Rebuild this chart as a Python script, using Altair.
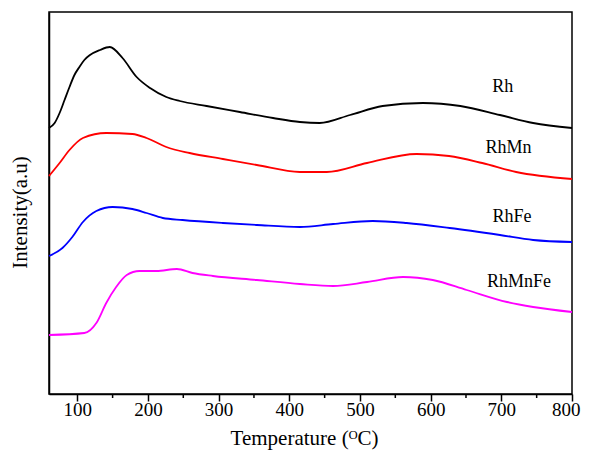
import altair as alt
import pandas as pd

# ---- data (temperature in °C, intensity in arbitrary units) ----
series_names = ["Rh", "RhMn", "RhFe", "RhMnFe"]
series_colors = ["#000000", "#ff0000", "#0000ff", "#ff00ff"]

rh_T = [60, 68, 75, 82, 89, 96, 103, 110, 118, 132, 146, 164, 184, 203, 226, 245, 283, 330, 377, 415, 443, 486, 532, 589, 642, 698, 745, 800]
rh_I = [266, 271, 281, 294, 307, 319, 327, 334, 339, 344, 347, 336, 317, 306, 297, 293, 288, 282, 276, 272, 271, 279, 288, 291, 288, 279, 271, 266]

rhmn_T = [60, 75, 89, 108, 141, 178, 198, 226, 259, 306, 354, 415, 453, 510, 580, 626, 673, 721, 800]
rhmn_I = [218, 231, 244, 256, 261, 260, 256, 247, 241, 235, 229, 222, 222, 231, 240, 238, 231, 222, 215]

rhfe_T = [60, 79, 93, 108, 127, 150, 178, 198, 221, 249, 306, 354, 415, 462, 518, 566, 627, 698, 745, 800]
rhfe_I = [138, 146, 157, 172, 183, 187, 185, 181, 176, 174, 171, 169, 167, 170, 173, 171, 166, 159, 154, 152]

rhmnfe_T = [60, 110, 127, 141, 155, 170, 188, 212, 241, 263, 292, 354, 415, 462, 510, 561, 603, 651, 708, 745, 800]
rhmnfe_I = [59, 61, 71, 91, 107, 119, 123, 123, 125, 121, 118, 114, 110, 108, 112, 117, 114, 104, 92, 87, 82]

label_T = [702, 710, 715, 725]
label_I = [307, 246, 177, 112]

x_ticks = [100, 200, 300, 400, 500, 600, 700, 800]
minor_ticks = [150, 250, 350, 450, 550, 650, 750]

# ---- tables ----
rows = []
for name, ts, vs in zip(series_names,
                        [rh_T, rhmn_T, rhfe_T, rhmnfe_T],
                        [rh_I, rhmn_I, rhfe_I, rhmnfe_I]):
    for t, v in zip(ts, vs):
        rows.append({"series": name, "T": t, "I": v})
df = pd.DataFrame(rows)
labels_df = pd.DataFrame({"series": series_names, "T": label_T, "I": label_I})
minor_df = pd.DataFrame({"T": minor_ticks})

SERIF = "Times New Roman, Liberation Serif, serif"

xscale = alt.Scale(domain=[60, 800], nice=False, zero=False)
yscale = alt.Scale(domain=[0, 382], nice=False, zero=False)
cscale = alt.Scale(domain=series_names, range=series_colors)

x_title = "Temperature (ᴼC)"
y_title = "Intensity(a.u)"

x_axis = alt.Axis(values=x_ticks, title=x_title, grid=False,
                  tickSize=7, tickWidth=1.5, tickColor="black",
                  labelPadding=-1, labelFontSize=19, labelFont=SERIF,
                  labelColor="black", labelFlush=1, labelFlushOffset=8,
                  titleFont=SERIF, titleFontSize=21,
                  titleFontWeight="normal", titleColor="black",
                  titleX=255, titleY=50, titleBaseline="alphabetic",
                  titleAlign="center",
                  domainColor="black", domainWidth=1.5)
y_axis = alt.Axis(labels=False, ticks=False, grid=False,
                  title=y_title,
                  titleFont=SERIF, titleFontSize=21,
                  titleFontWeight="normal", titleColor="black",
                  titleAngle=270, titleX=-23, titleY=200,
                  titleBaseline="alphabetic", titleAlign="center",
                  domainColor="black", domainWidth=1.5)

lines = alt.Chart(df).mark_line(interpolate="monotone", strokeWidth=1.8).encode(
    x=alt.X("T:Q", scale=xscale, axis=x_axis),
    y=alt.Y("I:Q", scale=yscale, axis=y_axis),
    color=alt.Color("series:N", scale=cscale, legend=None),
    detail="series:N",
)

minor = alt.Chart(minor_df).mark_rule(color="black", strokeWidth=1.5).encode(
    x=alt.X("T:Q", scale=xscale, axis=x_axis),
    y=alt.value(382),
    y2=alt.value(386),
)

texts = alt.Chart(labels_df).mark_text(
    font=SERIF, fontSize=18, color="black", align="center", baseline="middle"
).encode(
    x=alt.X("T:Q", scale=xscale, axis=x_axis),
    y=alt.Y("I:Q", scale=yscale, axis=y_axis),
    text="series:N",
)

chart = alt.layer(lines, minor, texts).properties(
    width=523,
    height=382,
    autosize=alt.AutoSizeParams(type="none"),
    padding={"left": 41, "top": 4, "right": 9, "bottom": 58},
    background="white",
).configure_view(
    stroke="black", strokeWidth=1.5
)

chart.save("out.html", embed_options={"renderer": "svg", "actions": False})
